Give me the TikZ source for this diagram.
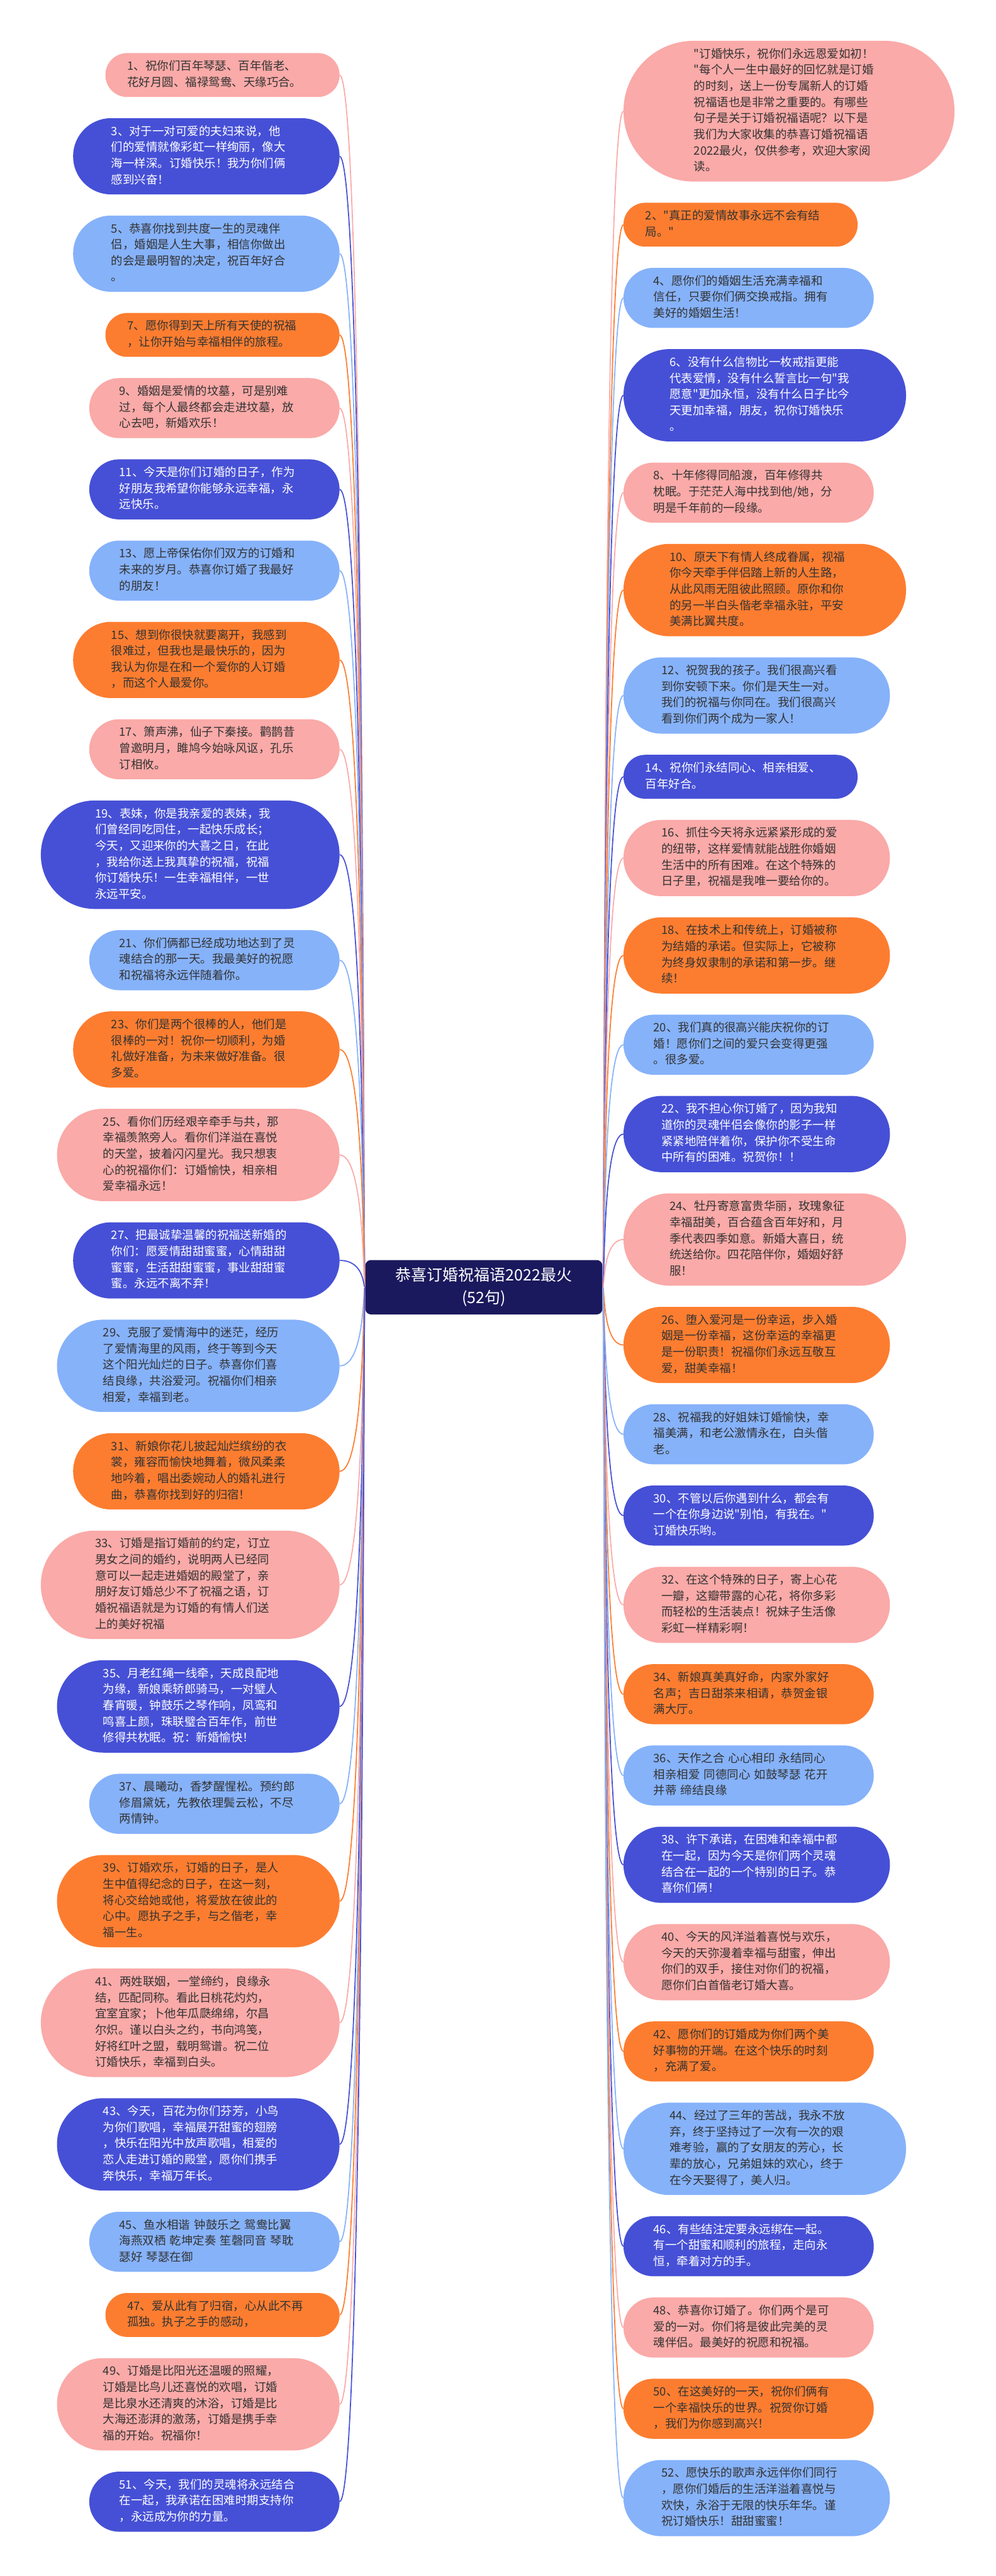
\documentclass[tikz,border=0pt]{standalone}
\usepackage{fontspec}
\usepackage{tikz}
\newfontfamily\cjk{Noto Sans CJK SC}
\definecolor{cPink}{RGB}{250, 170, 168}
\definecolor{cBlue}{RGB}{70, 80, 214}
\definecolor{cSky}{RGB}{134, 178, 250}
\definecolor{cOrange}{RGB}{253, 125, 48}
\definecolor{cNavy}{RGB}{27, 25, 93}
\definecolor{cText}{RGB}{51, 51, 51}

\tikzset{
  item/.style={rectangle, inner xsep=0pt, inner ysep=1pt, outer sep=0pt,
    text width=4.89cm, align=left, font=\cjk\fontsize{8.5}{11.81}\selectfont,
    execute at begin node=\strut, execute at end node=\strut},
  h2/.style={minimum height=1.13cm, minimum width=6.02cm, rounded corners=0.56cm},
  h3/.style={minimum height=1.545cm, minimum width=6.435cm, rounded corners=0.77cm},
  h4/.style={minimum height=1.96cm, minimum width=6.85cm, rounded corners=0.975cm},
  h5/.style={minimum height=2.375cm, minimum width=7.265cm, rounded corners=1.185cm},
  h6/.style={minimum height=2.79cm, minimum width=7.68cm, rounded corners=1.39cm},
  h8/.style={minimum height=3.62cm, minimum width=8.51cm, rounded corners=1.805cm},
  pinkbox/.style={item, fill=cPink, text=cText},
  bluebox/.style={item, fill=cBlue, text=white},
  skybox/.style={item, fill=cSky, text=cText},
  orangebox/.style={item, fill=cOrange, text=cText},
  root/.style={fill=cNavy, text=white, rounded corners=0.15cm, align=center,
    minimum width=6.1cm, minimum height=1.4cm, font=\cjk\fontsize{11.5}{16.5}\selectfont},
  link/.style={line width=0.8pt}
}

\begin{document}
\begin{tikzpicture}
  \useasboundingbox (0,0) rectangle (25.6,-66.26);

  \node[root] (ctr) at (12.44,-33.11) {恭喜订婚祝福语2022最火\\(52句)};

  % left side
  \node[pinkbox, h2, anchor=east] (l1) at (8.73,-1.93) {1、祝你们百年琴瑟、百年偕老、\\花好月圆、福禄鸳鸯、天缘巧合。};
  \node[bluebox, h4, anchor=east] (l3) at (8.73,-4.02) {3、对于一对可爱的夫妇来说，他\\们的爱情就像彩虹一样绚丽，像大\\海一样深。订婚快乐！我为你们俩\\感到兴奋！};
  \node[skybox, h4, anchor=east] (l5) at (8.73,-6.525) {5、恭喜你找到共度一生的灵魂伴\\侣，婚姻是人生大事，相信你做出\\的会是最明智的决定，祝百年好合\\。};
  \node[orangebox, h2, anchor=east] (l7) at (8.73,-8.615) {7、愿你得到天上所有天使的祝福\\，让你开始与幸福相伴的旅程。};
  \node[pinkbox, h3, anchor=east] (l9) at (8.73,-10.4975) {9、婚姻是爱情的坟墓，可是别难\\过，每个人最终都会走进坟墓，放\\心去吧，新婚欢乐！};
  \node[bluebox, h3, anchor=east] (l11) at (8.73,-12.5875) {11、今天是你们订婚的日子，作为\\好朋友我希望你能够永远幸福，永\\远快乐。};
  \node[skybox, h3, anchor=east] (l13) at (8.73,-14.6775) {13、愿上帝保佑你们双方的订婚和\\未来的岁月。恭喜你订婚了我最好\\的朋友！};
  \node[orangebox, h4, anchor=east] (l15) at (8.73,-16.975) {15、想到你很快就要离开，我感到\\很难过，但我也是最快乐的，因为\\我认为你是在和一个爱你的人订婚\\，而这个人最爱你。};
  \node[pinkbox, h3, anchor=east] (l17) at (8.73,-19.2725) {17、箫声沸，仙子下秦接。鹳鹊昔\\曾邀明月，雎鸠今始咏风讴，孔乐\\订相攸。};
  \node[bluebox, h6, anchor=east] (l19) at (8.73,-21.985) {19、表妹，你是我亲爱的表妹，我\\们曾经同吃同住，一起快乐成长；\\今天，又迎来你的大喜之日，在此\\，我给你送上我真挚的祝福，祝福\\你订婚快乐！一生幸福相伴，一世\\永远平安。};
  \node[skybox, h3, anchor=east] (l21) at (8.73,-24.6975) {21、你们俩都已经成功地达到了灵\\魂结合的那一天。我最美好的祝愿\\和祝福将永远伴随着你。};
  \node[orangebox, h4, anchor=east] (l23) at (8.73,-26.995) {23、你们是两个很棒的人，他们是\\很棒的一对！祝你一切顺利，为婚\\礼做好准备，为未来做好准备。很\\多爱。};
  \node[pinkbox, h5, anchor=east] (l25) at (8.73,-29.7075) {25、看你们历经艰辛牵手与共，那\\幸福羡煞旁人。看你们洋溢在喜悦\\的天堂，披着闪闪星光。我只想衷\\心的祝福你们：订婚愉快，相亲相\\爱幸福永远！};
  \node[bluebox, h4, anchor=east] (l27) at (8.73,-32.42) {27、把最诚挚温馨的祝福送新婚的\\你们：愿爱情甜甜蜜蜜，心情甜甜\\蜜蜜，生活甜甜蜜蜜，事业甜甜蜜\\蜜。永远不离不弃！};
  \node[skybox, h5, anchor=east] (l29) at (8.73,-35.1325) {29、克服了爱情海中的迷茫，经历\\了爱情海里的风雨，终于等到今天\\这个阳光灿烂的日子。恭喜你们喜\\结良缘，共浴爱河。祝福你们相亲\\相爱，幸福到老。};
  \node[orangebox, h4, anchor=east] (l31) at (8.73,-37.845) {31、新娘你花儿披起灿烂缤纷的衣\\裳，雍容而愉快地舞着，微风柔柔\\地吟着，唱出委婉动人的婚礼进行\\曲，恭喜你找到好的归宿！};
  \node[pinkbox, h6, anchor=east] (l33) at (8.73,-40.765) {33、订婚是指订婚前的约定，订立\\男女之间的婚约，说明两人已经同\\意可以一起走进婚姻的殿堂了，亲\\朋好友订婚总少不了祝福之语，订\\婚祝福语就是为订婚的有情人们送\\上的美好祝福};
  \node[bluebox, h5, anchor=east] (l35) at (8.73,-43.8925) {35、月老红绳一线牵，天成良配地\\为缘，新娘乘轿郎骑马，一对璧人\\春宵暖，钟鼓乐之琴作响，凤鸾和\\鸣喜上颜，珠联璧合百年作，前世\\修得共枕眠。祝：新婚愉快！};
  \node[skybox, h3, anchor=east] (l37) at (8.73,-46.3975) {37、晨曦动，香梦醒惺松。预约郎\\修眉黛妩，先教依理鬓云松，不尽\\两情钟。};
  \node[orangebox, h5, anchor=east] (l39) at (8.73,-48.9025) {39、订婚欢乐，订婚的日子，是人\\生中值得纪念的日子，在这一刻，\\将心交给她或他，将爱放在彼此的\\心中。愿执子之手，与之偕老，幸\\福一生。};
  \node[pinkbox, h6, anchor=east] (l41) at (8.73,-52.03) {41、两姓联姻，一堂缔约，良缘永\\结，匹配同称。看此日桃花灼灼，\\宜室宜家；卜他年瓜瓞绵绵，尔昌\\尔炽。谨以白头之约，书向鸿笺，\\好将红叶之盟，载明鸳谱。祝二位\\订婚快乐，幸福到白头。};
  \node[bluebox, h5, anchor=east] (l43) at (8.73,-55.1575) {43、今天，百花为你们芬芳，小鸟\\为你们歌唱，幸福展开甜蜜的翅膀\\，快乐在阳光中放声歌唱，相爱的\\恋人走进订婚的殿堂，愿你们携手\\奔快乐，幸福万年长。};
  \node[skybox, h3, anchor=east] (l45) at (8.73,-57.6625) {45、鱼水相谐 钟鼓乐之 鸳鸯比翼\\海燕双栖 乾坤定奏 笙磬同音 琴耽\\瑟好 琴瑟在御};
  \node[orangebox, h2, anchor=east] (l47) at (8.73,-59.545) {47、爱从此有了归宿，心从此不再\\孤独。执子之手的感动，};
  \node[pinkbox, h5, anchor=east] (l49) at (8.73,-61.8425) {49、订婚是比阳光还温暖的照耀，\\订婚是比鸟儿还喜悦的欢唱，订婚\\是比泉水还清爽的沐浴，订婚是比\\大海还澎湃的激荡，订婚是携手幸\\福的开始。祝福你！};
  \node[bluebox, h3, anchor=east] (l51) at (8.73,-64.3475) {51、今天，我们的灵魂将永远结合\\在一起，我承诺在困难时期支持你\\，永远成为你的力量。};

  % right side
  \node[pinkbox, h8, anchor=west] (r0) at (16.03,-2.86) {"订婚快乐，祝你们永远恩爱如初！\\"每个人一生中最好的回忆就是订婚\\的时刻，送上一份专属新人的订婚\\祝福语也是非常之重要的。有哪些\\句子是关于订婚祝福语呢？以下是\\我们为大家收集的恭喜订婚祝福语\\2022最火，仅供参考，欢迎大家阅\\读。};
  \node[orangebox, h2, anchor=west] (r2) at (16.03,-5.78) {2、"真正的爱情故事永远不会有结\\局。"};
  \node[skybox, h3, anchor=west] (r4) at (16.03,-7.6625) {4、愿你们的婚姻生活充满幸福和\\信任，只要你们俩交换戒指。拥有\\美好的婚姻生活！};
  \node[bluebox, h5, anchor=west] (r6) at (16.03,-10.1675) {6、没有什么信物比一枚戒指更能\\代表爱情，没有什么誓言比一句"我\\愿意"更加永恒，没有什么日子比今\\天更加幸福，朋友，祝你订婚快乐\\。};
  \node[pinkbox, h3, anchor=west] (r8) at (16.03,-12.6725) {8、十年修得同船渡，百年修得共\\枕眠。于茫茫人海中找到他/她，分\\明是千年前的一段缘。};
  \node[orangebox, h5, anchor=west] (r10) at (16.03,-15.1775) {10、原天下有情人终成眷属，视福\\你今天牵手伴侣踏上新的人生路，\\从此风雨无阻彼此照顾。原你和你\\的另一半白头偕老幸福永驻，平安\\美满比翼共度。};
  \node[skybox, h4, anchor=west] (r12) at (16.03,-17.89) {12、祝贺我的孩子。我们很高兴看\\到你安顿下来。你们是天生一对。\\我们的祝福与你同在。我们很高兴\\看到你们两个成为一家人！};
  \node[bluebox, h2, anchor=west] (r14) at (16.03,-19.98) {14、祝你们永结同心、相亲相爱、\\百年好合。};
  \node[pinkbox, h4, anchor=west] (r16) at (16.03,-22.07) {16、抓住今天将永远紧紧形成的爱\\的纽带，这样爱情就能战胜你婚姻\\生活中的所有困难。在这个特殊的\\日子里，祝福是我唯一要给你的。};
  \node[orangebox, h4, anchor=west] (r18) at (16.03,-24.575) {18、在技术上和传统上，订婚被称\\为结婚的承诺。但实际上，它被称\\为终身奴隶制的承诺和第一步。继\\续！};
  \node[skybox, h3, anchor=west] (r20) at (16.03,-26.8725) {20、我们真的很高兴能庆祝你的订\\婚！愿你们之间的爱只会变得更强\\。很多爱。};
  \node[bluebox, h4, anchor=west] (r22) at (16.03,-29.17) {22、我不担心你订婚了，因为我知\\道你的灵魂伴侣会像你的影子一样\\紧紧地陪伴着你，保护你不受生命\\中所有的困难。祝贺你！！};
  \node[pinkbox, h5, anchor=west] (r24) at (16.03,-31.8825) {24、牡丹寄意富贵华丽，玫瑰象征\\幸福甜美，百合蕴含百年好和，月\\季代表四季如意。新婚大喜日，统\\统送给你。四花陪伴你，婚姻好舒\\服！};
  \node[orangebox, h4, anchor=west] (r26) at (16.03,-34.595) {26、堕入爱河是一份幸运，步入婚\\姻是一份幸福，这份幸运的幸福更\\是一份职责！祝福你们永远互敬互\\爱，甜美幸福！};
  \node[skybox, h3, anchor=west] (r28) at (16.03,-36.8925) {28、祝福我的好姐妹订婚愉快，幸\\福美满，和老公激情永在，白头偕\\老。};
  \node[bluebox, h3, anchor=west] (r30) at (16.03,-38.9825) {30、不管以后你遇到什么，都会有\\一个在你身边说"别怕，有我在。"\\订婚快乐哟。};
  \node[pinkbox, h4, anchor=west] (r32) at (16.03,-41.28) {32、在这个特殊的日子，寄上心花\\一瓣，这瓣带露的心花，将你多彩\\而轻松的生活装点！祝妹子生活像\\彩虹一样精彩啊！};
  \node[orangebox, h3, anchor=west] (r34) at (16.03,-43.5775) {34、新娘真美真好命，内家外家好\\名声；吉日甜茶来相请，恭贺金银\\满大厅。};
  \node[skybox, h3, anchor=west] (r36) at (16.03,-45.6675) {36、天作之合 心心相印 永结同心\\相亲相爱 同德同心 如鼓琴瑟 花开\\并蒂 缔结良缘};
  \node[bluebox, h4, anchor=west] (r38) at (16.03,-47.965) {38、许下承诺，在困难和幸福中都\\在一起，因为今天是你们两个灵魂\\结合在一起的一个特别的日子。恭\\喜你们俩！};
  \node[pinkbox, h4, anchor=west] (r40) at (16.03,-50.47) {40、今天的风洋溢着喜悦与欢乐，\\今天的天弥漫着幸福与甜蜜，伸出\\你们的双手，接住对你们的祝福，\\愿你们白首偕老订婚大喜。};
  \node[orangebox, h3, anchor=west] (r42) at (16.03,-52.7675) {42、愿你们的订婚成为你们两个美\\好事物的开端。在这个快乐的时刻\\，充满了爱。};
  \node[skybox, h5, anchor=west] (r44) at (16.03,-55.2725) {44、经过了三年的苦战，我永不放\\弃，终于坚持过了一次有一次的艰\\难考验，赢的了女朋友的芳心，长\\辈的放心，兄弟姐妹的欢心，终于\\在今天娶得了，美人归。};
  \node[bluebox, h3, anchor=west] (r46) at (16.03,-57.7775) {46、有些结注定要永远绑在一起。\\有一个甜蜜和顺利的旅程，走向永\\恒，牵着对方的手。};
  \node[pinkbox, h3, anchor=west] (r48) at (16.03,-59.8675) {48、恭喜你订婚了。你们两个是可\\爱的一对。你们将是彼此完美的灵\\魂伴侣。最美好的祝愿和祝福。};
  \node[orangebox, h3, anchor=west] (r50) at (16.03,-61.9575) {50、在这美好的一天，祝你们俩有\\一个幸福快乐的世界。祝贺你订婚\\，我们为你感到高兴！};
  \node[skybox, h4, anchor=west] (r52) at (16.03,-64.255) {52、愿快乐的歌声永远伴你们同行\\，愿你们婚后的生活洋溢着喜悦与\\欢快，永浴于无限的快乐年华。谨\\祝订婚快乐！甜甜蜜蜜！};

  % links
  \foreach \n/\c in {l1/cPink, l3/cBlue, l5/cSky, l7/cOrange, l9/cPink, l11/cBlue, l13/cSky,
      l15/cOrange, l17/cPink, l19/cBlue, l21/cSky, l23/cOrange, l25/cPink, l27/cBlue, l29/cSky,
      l31/cOrange, l33/cPink, l35/cBlue, l37/cSky, l39/cOrange, l41/cPink, l43/cBlue, l45/cSky,
      l47/cOrange, l49/cPink, l51/cBlue}
    \draw[link, \c] (ctr.west) .. controls +(-0.05,0) and (ctr.west |- \n.east) .. (\n.east);
  \foreach \n/\c in {r0/cPink, r2/cOrange, r4/cSky, r6/cBlue, r8/cPink, r10/cOrange, r12/cSky,
      r14/cBlue, r16/cPink, r18/cOrange, r20/cSky, r22/cBlue, r24/cPink, r26/cOrange, r28/cSky,
      r30/cBlue, r32/cPink, r34/cOrange, r36/cSky, r38/cBlue, r40/cPink, r42/cOrange, r44/cSky,
      r46/cBlue, r48/cPink, r50/cOrange, r52/cSky}
    \draw[link, \c] (ctr.east) .. controls +(0.05,0) and (ctr.east |- \n.west) .. (\n.west);
\end{tikzpicture}
\end{document}
